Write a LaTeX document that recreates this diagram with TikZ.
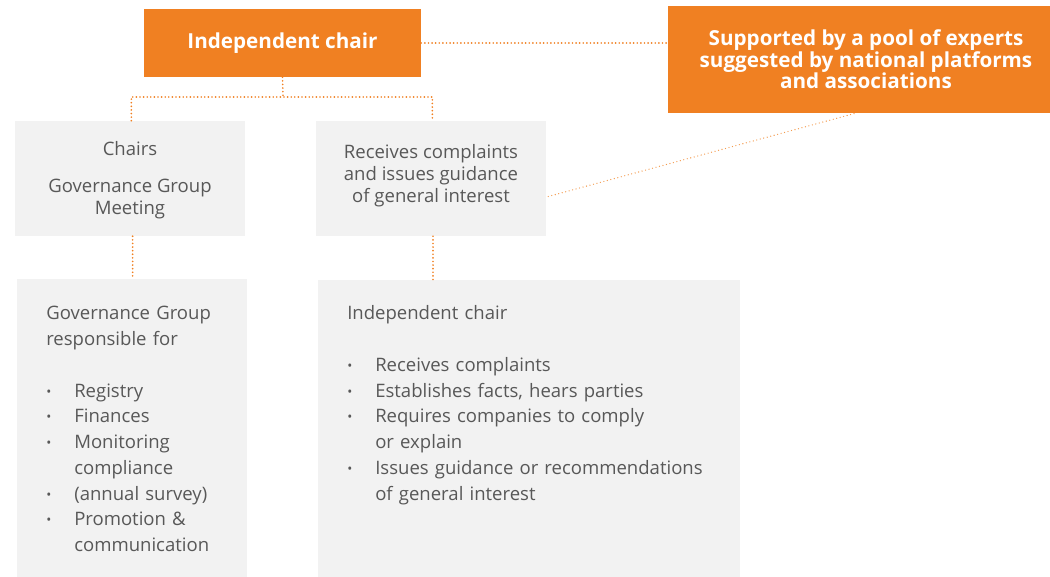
\documentclass[tikz,border=0pt]{standalone}
\usepackage{fontspec}
\setmainfont{Open Sans}
\definecolor{orng}{RGB}{240,128,34}
\definecolor{pale}{RGB}{242,242,242}
\definecolor{txt}{RGB}{88,88,88}
\newcommand{\itm}{\makebox[21pt][l]{\raisebox{0.8pt}{\scalebox{0.72}{\textbullet}}}}
\newcommand{\skp}{\hspace*{21pt}}
\begin{document}
\begin{tikzpicture}[x=0.75pt,y=-0.75pt,line cap=round,
    orangebox/.style={fill=orng,text=white,inner sep=0pt,align=center,
      font=\bfseries\fontsize{15.5}{16.2}\selectfont},
    greybox/.style={fill=pale,inner sep=0pt},
    body/.style={text=txt,font=\fontsize{13.9}{19.3}\selectfont},
    tight/.style={text=txt,align=center,font=\fontsize{13.9}{16.5}\selectfont},
    link/.style={orng,line width=1.4pt,dash pattern=on 0pt off 2.7pt},
    thinlink/.style={orng!80,line width=1pt,dash pattern=on 0pt off 2.7pt}]
  \useasboundingbox (0,0) rectangle (1050,577);

  \node[orangebox,minimum width=207.75pt,minimum height=51pt] (chair) at (282.5,43) {Independent chair};
  \node[orangebox,minimum width=297pt,minimum height=80.25pt] (pool) at (866,59.5)
    {Supported by a pool of experts\\suggested by national platforms\\and associations};

  \node[greybox,minimum width=172.5pt,minimum height=86.25pt] (meet) at (130,178.5) {};
  \node[tight] (meettext) at (130,180) {Chairs\\[11pt]Governance Group\\Meeting};
  \node[greybox,minimum width=172.5pt,minimum height=86.25pt] (recv) at (431,178.5) {};
  \node[tight] (recvtext) at (431,175.5) {Receives complaints\\and issues guidance\\of general interest};

  \node[greybox,minimum width=172.5pt,minimum height=223.5pt] (gg) at (132,428) {};
  \node[greybox,minimum width=316.5pt,minimum height=222.75pt] (ic) at (529,428.5) {};

  \node[body,anchor=base west,text width=150pt,align=left,inner sep=0pt] (ggtext) at (46,320)
    {Governance Group\\responsible for\\[19.3pt]
     \itm Registry\\
     \itm Finances\\
     \itm Monitoring\\
     \skp compliance\\
     \itm (annual survey)\\
     \itm Promotion \&\\
     \skp communication};
  \node[body,anchor=base west,text width=300pt,align=left,inner sep=0pt] (ictext) at (347,320)
    {Independent chair\\[19.3pt]
     \itm Receives complaints\\
     \itm Establishes facts, hears parties\\
     \itm Requires companies to comply\\
     \skp or explain\\
     \itm Issues guidance or recommendations\\
     \skp of general interest};

  \coordinate (split) at (283,97);
  \draw[link] (chair.east) -- (chair.east -| pool.west);
  \draw[link] (chair.south) -- (split);
  \draw[link] ([xshift=1pt]meet.north) |- (split) -| ([xshift=1pt]recv.north);
  \draw[link] ([xshift=2pt]meet.south) -- ([xshift=2pt]meet.south |- gg.north);
  \draw[link] ([xshift=1.5pt]recv.south) -- ([xshift=1.5pt]recv.south |- ic.north);
  \draw[thinlink] ([shift={(2,18)}]recv.east) -- ([xshift=-8pt]pool.south);
\end{tikzpicture}
\end{document}
